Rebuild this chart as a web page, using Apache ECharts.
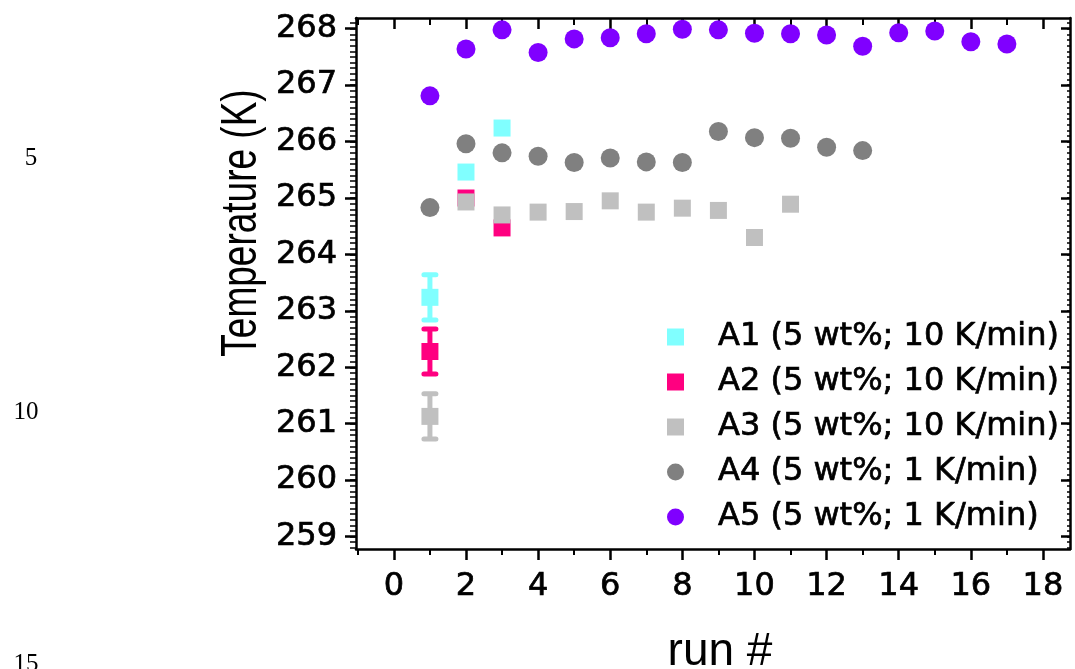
<!DOCTYPE html>
<html><head><meta charset="utf-8">
<script src="https://cdn.jsdelivr.net/npm/echarts@6/dist/echarts.min.js"></script>
<style>html,body{margin:0;padding:0;background:#fff}#c{width:1075px;height:669px}</style>
</head><body><div id="c"></div>
<script>
// ---- data ----
const seriesNames = ['A1 (5 wt%; 10 K/min)', 'A2 (5 wt%; 10 K/min)', 'A3 (5 wt%; 10 K/min)', 'A4 (5 wt%; 1 K/min)', 'A5 (5 wt%; 1 K/min)'];
const runsA1 = [1, 2, 3];
const tempA1 = [263.24, 265.46, 266.24];
const errA1  = [0.40, 0, 0];
const runsA2 = [1, 2, 3];
const tempA2 = [262.28, 265.00, 264.47];
const errA2  = [0.40, 0, 0];
const runsA3 = [1, 2, 3, 4, 5, 6, 7, 8, 9, 10, 11];
const tempA3 = [261.13, 264.93, 264.70, 264.75, 264.76, 264.95, 264.75, 264.82, 264.78, 264.30, 264.89];
const errA3  = [0.40, 0, 0, 0, 0, 0, 0, 0, 0, 0, 0];
const runsA4 = [1, 2, 3, 4, 5, 6, 7, 8, 9, 10, 11, 12, 13];
const tempA4 = [264.83, 265.96, 265.80, 265.74, 265.63, 265.71, 265.64, 265.63, 266.18, 266.07, 266.06, 265.90, 265.84];
const runsA5 = [1, 2, 3, 4, 5, 6, 7, 8, 9, 10, 11, 12, 13, 14, 15, 16, 17];
const tempA5 = [266.81, 267.64, 267.98, 267.58, 267.82, 267.84, 267.91, 267.99, 267.98, 267.92, 267.91, 267.89, 267.69, 267.93, 267.96, 267.77, 267.73];
const xMajorTicks = [0, 2, 4, 6, 8, 10, 12, 14, 16, 18];
const xMinorTicks = [-1, 1, 3, 5, 7, 9, 11, 13, 15, 17];
const yMajorTicks = [259, 260, 261, 262, 263, 264, 265, 266, 267, 268];
const xTitle = 'run #';
const yTitle = 'Temperature (K)';
const lineNumbers = ['5', '10', '15'];
const colors = ['#80FFFF', '#FF0080', '#C0C0C0', '#808080', '#8000FF'];
const symbols = ['rect', 'rect', 'rect', 'circle', 'circle'];

// minor y ticks every 0.1 K
const yMinorTicks = [];
for (let i = 2588; i <= 2681; i++) yMinorTicks.push(i / 10);

const X_MIN = -1.05, X_MAX = 18.75, Y_MIN = 258.78, Y_MAX = 268.19;

const zip = (a, b) => a.map((v, i) => [v, b[i]]);
const zip3 = (a, b, c) => a.map((v, i) => [v, b[i], c[i]]).filter(d => d[2] > 0);

function errRender(color) {
  return function (params, api) {
    const x = api.value(0), y = api.value(1), e = api.value(2);
    const t = api.coord([x, y + e]), b = api.coord([x, y - e]);
    const hw = 6;
    const st = { stroke: color, lineWidth: 5, lineCap: 'round' };
    return { type: 'group', children: [
      { type: 'line', shape: { x1: t[0], y1: t[1], x2: b[0], y2: b[1] }, style: { stroke: color, lineWidth: 5 } },
      { type: 'line', shape: { x1: t[0] - hw, y1: t[1], x2: t[0] + hw, y2: t[1] }, style: st },
      { type: 'line', shape: { x1: b[0] - hw, y1: b[1], x2: b[0] + hw, y2: b[1] }, style: st }
    ]};
  };
}

const runs = [runsA1, runsA2, runsA3, runsA4, runsA5];
const temps = [tempA1, tempA2, tempA3, tempA4, tempA5];
const errs = [errA1, errA2, errA3, null, null];

const series = [];
for (let k = 0; k < 5; k++) {
  if (errs[k]) {
    series.push({
      type: 'custom', xAxisIndex: 0, yAxisIndex: 0, silent: true,
      renderItem: errRender(colors[k]),
      encode: { x: 0, y: 1 },
      data: zip3(runs[k], temps[k], errs[k]), z: 2
    });
  }
  series.push({
    name: seriesNames[k], type: 'scatter', xAxisIndex: 0, yAxisIndex: 0,
    symbol: symbols[k], symbolSize: symbols[k] === 'rect' ? 17 : 19,
    itemStyle: { color: colors[k], opacity: 1 },
    emphasis: { disabled: true }, silent: true,
    data: zip(runs[k], temps[k]), z: 3
  });
}

const black = '#000';
const lineSt = { color: black, width: 2.5 };
const labelFont = { fontFamily: 'DejaVu Sans', fontSize: 32, color: black, textBorderColor: black, textBorderWidth: 0.7 };
const xBase = { type: 'value', min: X_MIN, max: X_MAX, splitLine: { show: false } };
const yBase = { type: 'value', min: Y_MIN, max: Y_MAX, splitLine: { show: false }, scale: true };

const option = {
  animation: false,
  backgroundColor: '#fff',
  grid: { left: 356, right: 5, top: 18, bottom: 120, containLabel: false, outerBoundsMode: 'none' },
  xAxis: [
    Object.assign({}, xBase, {
      position: 'bottom',
      axisLine: { show: true, onZero: false, lineStyle: lineSt },
      axisTick: { show: true, customValues: xMajorTicks, length: 11, lineStyle: { color: black, width: 2.5 } },
      axisLabel: Object.assign({ show: true, customValues: xMajorTicks, margin: 22 }, labelFont),
      name: xTitle, nameLocation: 'middle', nameGap: 80,
      nameTextStyle: { fontFamily: 'Liberation Sans', fontSize: 46, color: black, padding: [0, 0, 0, 14] }
    }),
    Object.assign({}, xBase, {
      position: 'bottom',
      axisLine: { show: false, onZero: false },
      axisTick: { show: true, customValues: xMinorTicks, length: 6, lineStyle: { color: black, width: 2 } },
      axisLabel: { show: false }
    }),
    Object.assign({}, xBase, {
      position: 'top',
      axisLine: { show: true, onZero: false, lineStyle: lineSt },
      axisTick: { show: true, inside: true, customValues: xMajorTicks, length: 11, lineStyle: { color: black, width: 2.5 } },
      axisLabel: { show: false }
    }),
    Object.assign({}, xBase, {
      position: 'top',
      axisLine: { show: false, onZero: false },
      axisTick: { show: true, inside: true, customValues: xMinorTicks, length: 7, lineStyle: { color: black, width: 2 } },
      axisLabel: { show: false }
    })
  ],
  yAxis: [
    Object.assign({}, yBase, {
      position: 'left',
      axisLine: { show: true, onZero: false, lineStyle: lineSt },
      axisTick: { show: true, customValues: yMajorTicks, length: 11, lineStyle: { color: black, width: 2.5 } },
      axisLabel: Object.assign({ show: true, customValues: yMajorTicks, margin: 19 }, labelFont)
    }),
    Object.assign({}, yBase, {
      position: 'left',
      axisLine: { show: false, onZero: false },
      axisTick: { show: true, customValues: yMinorTicks, length: 6, lineStyle: { color: black, width: 1.5 } },
      axisLabel: { show: false }
    }),
    Object.assign({}, yBase, {
      position: 'right',
      axisLine: { show: true, onZero: false, lineStyle: lineSt },
      axisTick: { show: true, inside: true, customValues: yMajorTicks, length: 9, lineStyle: { color: black, width: 2.5 } },
      axisLabel: { show: false }
    }),
    Object.assign({}, yBase, {
      position: 'right',
      axisLine: { show: false, onZero: false },
      axisTick: { show: true, inside: true, customValues: yMinorTicks, length: 3, lineStyle: { color: black, width: 1.5 } },
      axisLabel: { show: false }
    })
  ],
  legend: {
    orient: 'vertical', left: 667, top: 320, padding: 0,
    itemWidth: 17, itemHeight: 17, itemGap: 11, selectedMode: false,
    textStyle: { fontFamily: 'DejaVu Sans', fontSize: 32, color: black, lineHeight: 34, padding: [0, 0, 0, 29], textBorderColor: black, textBorderWidth: 0.7 },
    data: seriesNames.map((n, i) => ({ name: n, icon: symbols[i] }))
  },
  graphic: [
    { type: 'text', x: 242, y: 223, rotation: Math.PI / 2, scaleX: 0.74,
      style: { text: yTitle, font: '50px "Liberation Sans"', fill: black, textAlign: 'center', textVerticalAlign: 'middle' } },
    { type: 'text', x: 31, y: 158, style: { text: lineNumbers[0], font: '25px "Liberation Serif"', fill: black, textAlign: 'center', textVerticalAlign: 'middle' } },
    { type: 'text', x: 26, y: 412, style: { text: lineNumbers[1], font: '25px "Liberation Serif"', fill: black, textAlign: 'center', textVerticalAlign: 'middle' } },
    { type: 'text', x: 26, y: 664, style: { text: lineNumbers[2], font: '25px "Liberation Serif"', fill: black, textAlign: 'center', textVerticalAlign: 'middle' } }
  ],
  series: series
};

const chart = echarts.init(document.getElementById('c'), null, { renderer: 'canvas' });
chart.setOption(option);
</script>
</body></html>
